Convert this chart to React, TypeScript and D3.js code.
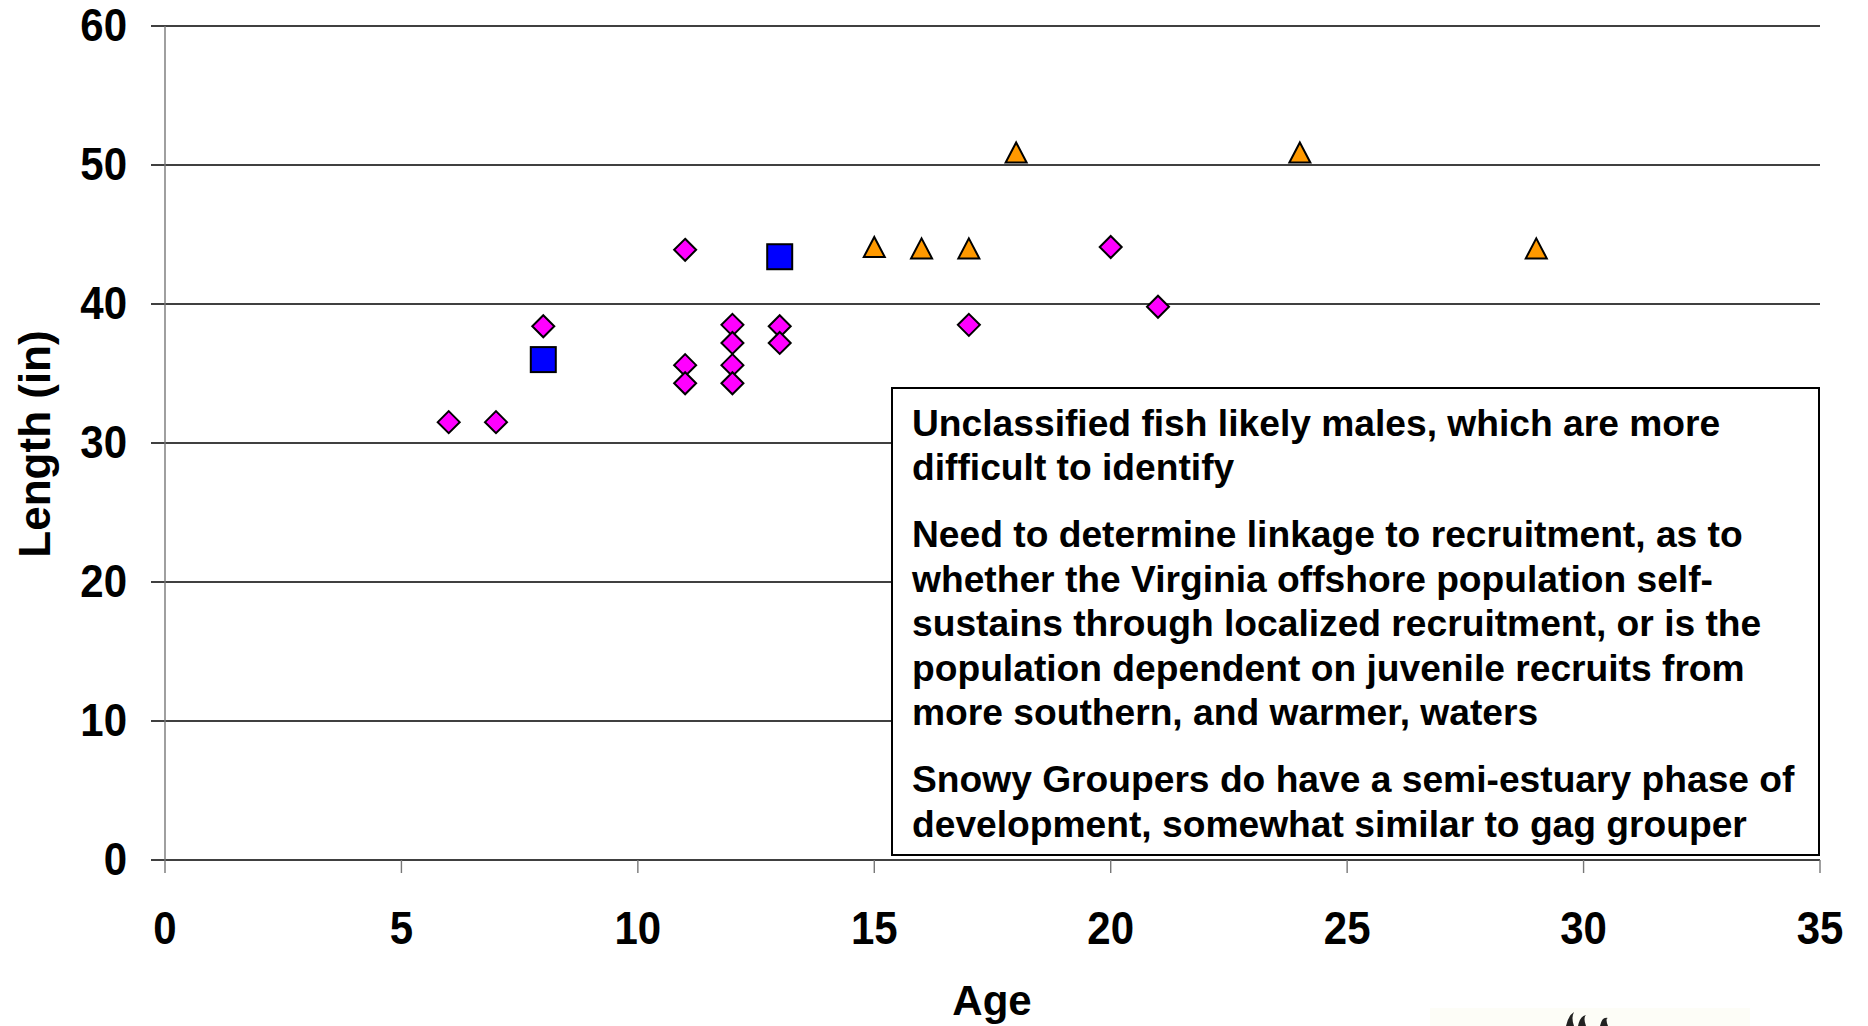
import React, { useRef, useEffect } from "react";
import * as d3 from "d3";

const diamondAge = [6, 7, 8, 11, 11, 11, 12, 12, 12, 12, 13, 13, 17, 20, 21];
const diamondLen = [31.5, 31.5, 38.4, 43.9, 35.6, 34.3, 38.5, 37.2, 35.6, 34.3, 38.4, 37.2, 38.5, 44.1, 39.8];
const squareAge = [8, 13];
const squareLen = [36, 43.4];
const triangleAge = [15, 16, 17, 18, 24, 29];
const triangleLen = [44.1, 44, 44, 50.9, 50.9, 44];

const xTicks = [0, 5, 10, 15, 20, 25, 30, 35];
const yTicks = [0, 10, 20, 30, 40, 50, 60];

const notes = [
  ["Unclassified fish likely males, which are more", "difficult to identify"],
  [
    "Need to determine linkage to recruitment, as to",
    "whether the Virginia offshore population self-",
    "sustains through localized recruitment, or is the",
    "population dependent on juvenile recruits from",
    "more southern, and warmer, waters",
  ],
  ["Snowy Groupers do have a semi-estuary phase of", "development, somewhat similar to gag grouper"],
];

const font = "'Liberation Sans', Arial, Helvetica, sans-serif";

const App: React.FC = () => {
  const ref = useRef<SVGSVGElement | null>(null);

  useEffect(() => {
    if (!ref.current) return;
    document.body.style.margin = "0";

    const width = 1868;
    const height = 1026;
    const x = d3.scaleLinear().domain([0, 35]).range([165, 1820]);
    const y = d3.scaleLinear().domain([0, 60]).range([860, 26]);

    const svg = d3
      .select(ref.current)
      .attr("width", width)
      .attr("height", height)
      .style("display", "block")
      .style("background", "#fff")
      .style("font-family", font);

    // gridlines (the 0 line doubles as the x axis)
    svg
      .append("g")
      .selectAll("line")
      .data(yTicks)
      .join("line")
      .attr("x1", x(0) - 14)
      .attr("x2", x(35))
      .attr("y1", (d) => y(d))
      .attr("y2", (d) => y(d))
      .attr("stroke", "#000")
      .attr("stroke-width", 1.4);

    // y axis line
    svg
      .append("line")
      .attr("x1", x(0))
      .attr("x2", x(0))
      .attr("y1", y(60))
      .attr("y2", y(0) + 13)
      .attr("stroke", "#777")
      .attr("stroke-width", 1.4);

    // x ticks
    svg
      .append("g")
      .selectAll("line")
      .data(xTicks.slice(1))
      .join("line")
      .attr("x1", (d) => x(d))
      .attr("x2", (d) => x(d))
      .attr("y1", y(0))
      .attr("y2", y(0) + 13)
      .attr("stroke", "#777")
      .attr("stroke-width", 1.4);

    // tick labels, slightly stretched vertically like the original slide
    svg
      .append("g")
      .selectAll("text")
      .data(yTicks)
      .join("text")
      .attr("transform", (d) => `translate(127,${y(d) + 15}) scale(1,1.12)`)
      .attr("text-anchor", "end")
      .attr("font-size", 42)
      .attr("font-weight", "bold")
      .text((d) => d);

    svg
      .append("g")
      .selectAll("text")
      .data(xTicks)
      .join("text")
      .attr("transform", (d) => `translate(${x(d)},${y(0) + 84}) scale(1,1.12)`)
      .attr("text-anchor", "middle")
      .attr("font-size", 42)
      .attr("font-weight", "bold")
      .text((d) => d);

    // axis titles
    svg
      .append("text")
      .attr("x", 992)
      .attr("y", 1015)
      .attr("text-anchor", "middle")
      .attr("font-size", 42)
      .attr("font-weight", "bold")
      .text("Age");

    svg
      .append("text")
      .attr("transform", "translate(50,444) rotate(-90)")
      .attr("text-anchor", "middle")
      .attr("font-size", 44)
      .attr("font-weight", "bold")
      .text("Length (in)");

    // markers
    const diamond = (r: number) => `M0,${-r}L${r},0L0,${r}L${-r},0Z`;
    const triangle = (w: number, h: number) => `M0,${-h / 2}L${w / 2},${h / 2}L${-w / 2},${h / 2}Z`;

    svg
      .append("g")
      .selectAll("path")
      .data(diamondAge.map((a, i) => [a, diamondLen[i]]))
      .join("path")
      .attr("transform", (d) => `translate(${x(d[0])},${y(d[1])})`)
      .attr("d", diamond(11))
      .attr("fill", "#ff00ff")
      .attr("stroke", "#000")
      .attr("stroke-width", 2);

    svg
      .append("g")
      .selectAll("rect")
      .data(squareAge.map((a, i) => [a, squareLen[i]]))
      .join("rect")
      .attr("x", (d) => x(d[0]) - 12.5)
      .attr("y", (d) => y(d[1]) - 12.5)
      .attr("width", 25)
      .attr("height", 25)
      .attr("fill", "#0000ff")
      .attr("stroke", "#000")
      .attr("stroke-width", 2);

    svg
      .append("g")
      .selectAll("path")
      .data(triangleAge.map((a, i) => [a, triangleLen[i]]))
      .join("path")
      .attr("transform", (d) => `translate(${x(d[0])},${y(d[1])})`)
      .attr("d", triangle(21, 20))
      .attr("fill", "#ff9900")
      .attr("stroke", "#000")
      .attr("stroke-width", 2)
      .attr("stroke-linejoin", "miter");

    // note box
    const box = svg.append("g");
    box
      .append("rect")
      .attr("x", 892)
      .attr("y", 388)
      .attr("width", 927)
      .attr("height", 467)
      .attr("fill", "#fff")
      .attr("stroke", "#000")
      .attr("stroke-width", 2);

    let baseline = 435.5;
    notes.forEach((para, p) => {
      if (p > 0) baseline += 22.3;
      para.forEach((line) => {
        box
          .append("text")
          .attr("x", 912)
          .attr("y", baseline)
          .attr("font-size", 37.2)
          .attr("font-weight", "bold")
          .text(line);
        baseline += 44.6;
      });
    });

    // cut-off picture fragment at bottom right
    const frag = svg.append("g");
    frag
      .append("rect")
      .attr("x", 1430)
      .attr("y", 1008)
      .attr("width", 320)
      .attr("height", 18)
      .attr("fill", "#fdfdf7");
    [1566, 1578, 1600].forEach((px, i) => {
      frag
        .append("path")
        .attr("d", `M${px},1026 Q${px + 2},1016 ${px + 8},${1012 + i * 3} Q${px + 5},1018 ${px + 8},1026Z`)
        .attr("fill", "#222");
    });

    return () => {
      svg.selectAll("*").remove();
    };
  }, []);

  return <svg ref={ref}></svg>;
};

export default App;
